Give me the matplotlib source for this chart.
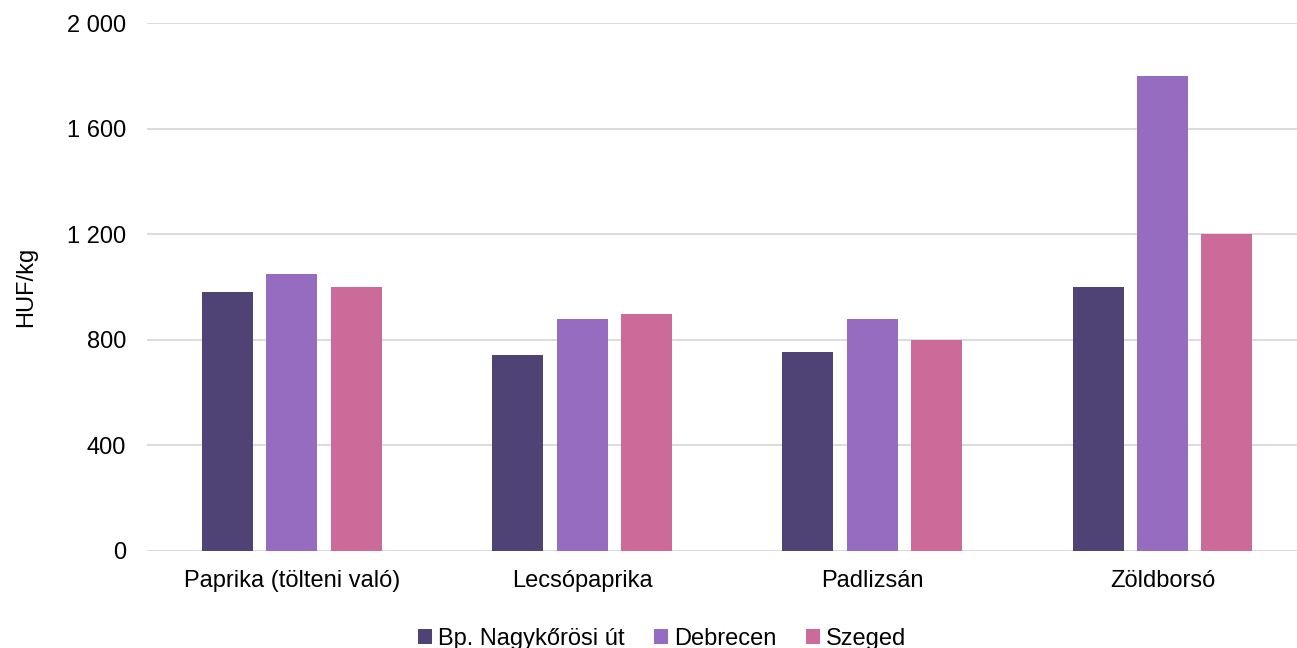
import numpy as np
import matplotlib.pyplot as plt
from matplotlib.ticker import FuncFormatter

plt.rcParams['font.family'] = ['Liberation Sans', 'DejaVu Sans']

categories = ['Paprika (tölteni való)', 'Lecsópaprika', 'Padlizsán', 'Zöldborsó']
series = ['Bp. Nagykőrösi út', 'Debrecen', 'Szeged']
bp = [980, 742, 754, 1000]
debrecen = [1050, 879, 877, 1800]
szeged = [1000, 898, 800, 1200]
colors = ['#4E4374', '#956CC0', '#CC6A99']

fig = plt.figure(figsize=(12.97, 6.48), dpi=100)
ax = fig.add_axes([0.1132, 0.1497, 0.895, 0.8148])

x = np.arange(len(categories))
w = 0.176
step = 0.222
for i, (vals, name) in enumerate(zip([bp, debrecen, szeged], series)):
    ax.bar(x + (i - 1) * step, vals, width=w, color=colors[i], label=name, zorder=3)

ax.set_xlim(-0.5, len(categories) - 0.5)
ax.set_ylim(0, 2000)
ax.set_yticks(range(0, 2001, 400))
ax.yaxis.set_major_formatter(FuncFormatter(lambda v, p: '{:,.0f}'.format(v).replace(',', ' ')))
ax.set_xticks(x)
ax.set_xticklabels(categories)
ax.grid(axis='y', color='#D9D9D9', linewidth=1.3, zorder=0)
for s in ['top', 'right', 'left', 'bottom']:
    ax.spines[s].set_visible(False)
ax.axhline(0, color='#D9D9D9', linewidth=1.3, zorder=1)
ax.tick_params(axis='both', length=0, labelsize=17)
ax.tick_params(axis='x', pad=14)
ax.tick_params(axis='y', pad=15)
ax.set_ylabel('HUF/kg', fontsize=17, labelpad=21)

ax.legend(loc='upper center', bbox_to_anchor=(0.444, -0.105), ncol=3, frameon=False,
          fontsize=17, handlelength=0.6, handleheight=0.6, handletextpad=0.25,
          columnspacing=1.24)

fig.savefig('out.png', dpi=100)
